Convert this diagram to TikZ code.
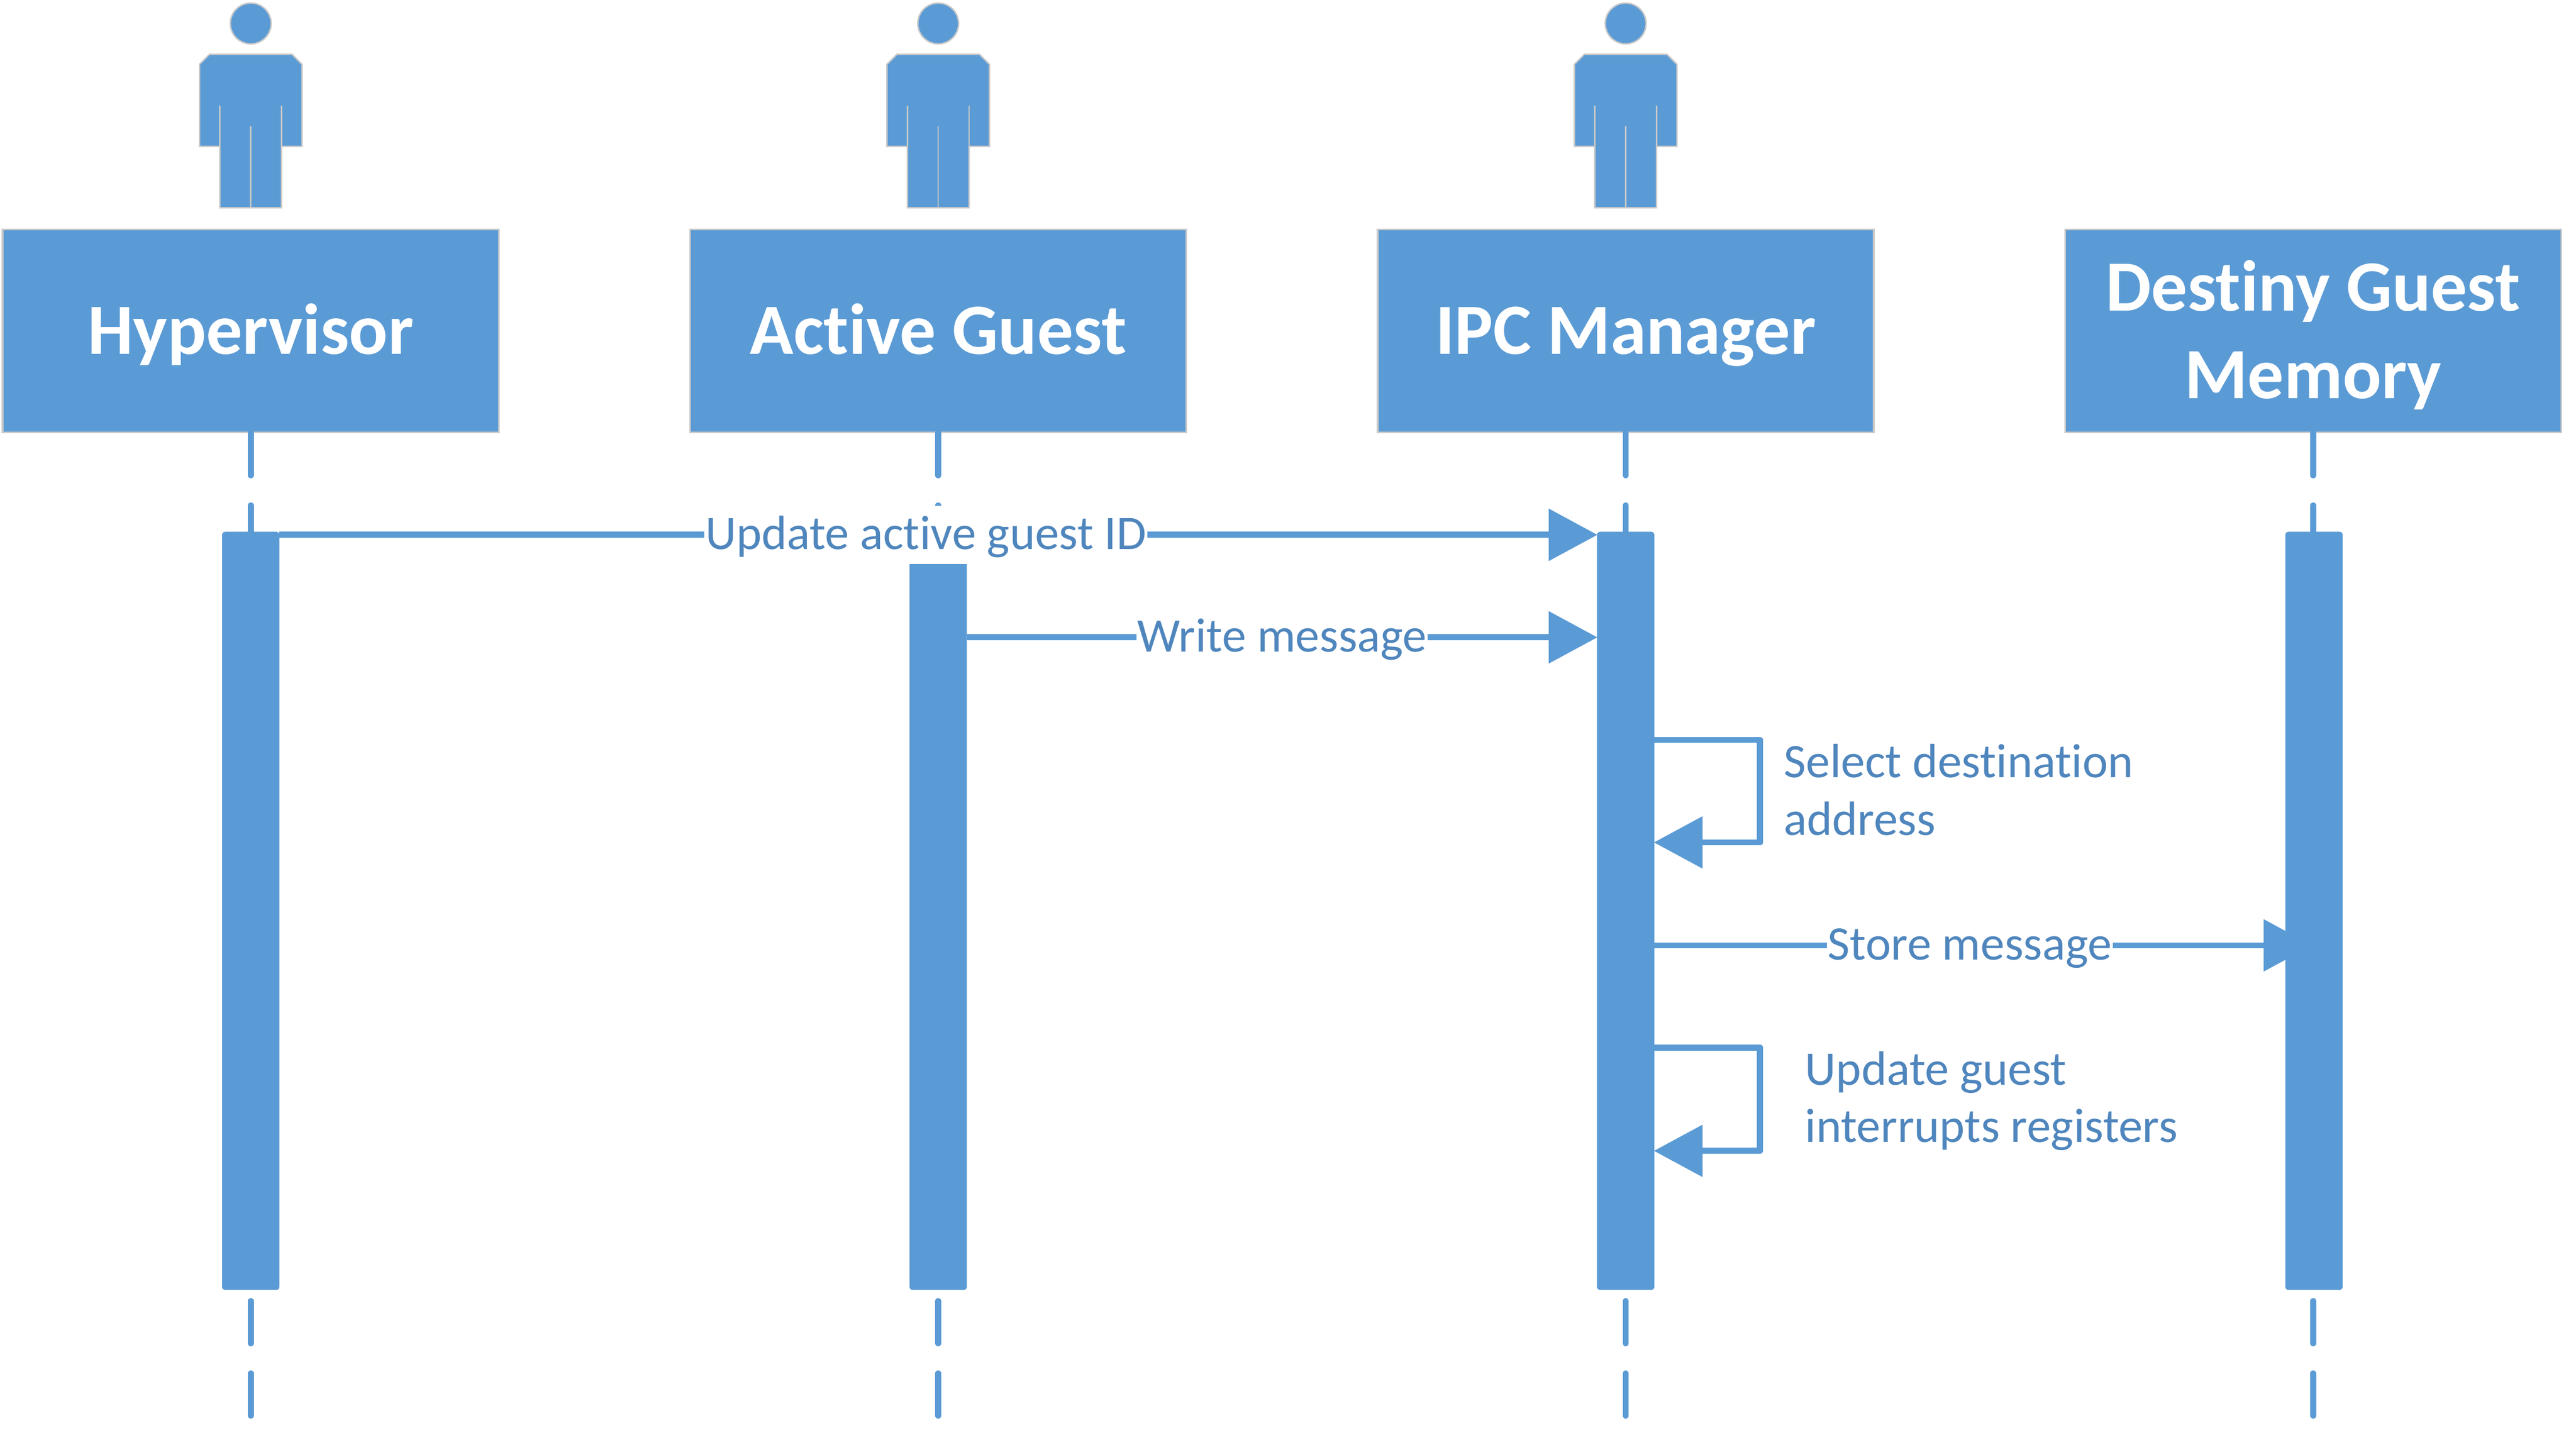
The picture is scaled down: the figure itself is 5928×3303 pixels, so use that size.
\documentclass[tikz,border=0pt]{standalone}
\usepackage{fontspec}
\setmainfont{Carlito}[RawFeature={-liga;-dlig;-clig}]
\usetikzlibrary{arrows.meta,calc}
\definecolor{fillblue}{HTML}{5B9BD5}
\definecolor{txtblue}{HTML}{4F86BD}
\definecolor{edgegrey}{HTML}{C9C9C9}
\tikzset{
  x=0.1pt,y=-0.1pt,
  headbox/.style={rectangle,fill=fillblue,draw=edgegrey,line width=0.4pt,minimum width=114.2pt,minimum height=46.7pt,inner sep=0pt,text=white,align=center,font=\fontsize{16.6}{20.1}\selectfont\bfseries},
  oneline/.style={text height=13.8pt,text depth=3.2pt},
  twolines/.style={text height=33.3pt,text depth=2.3pt},
  bar/.style={rectangle,fill=fillblue,rounded corners=0.7pt,minimum width=13.2pt,minimum height=174.5pt,inner sep=0pt,outer sep=0pt},
  lifeline/.style={draw=fillblue,line width=1.4pt,line cap=round,dash pattern=on 9.7pt off 6.95pt},
  msg/.style={draw=fillblue,line width=1.4pt,-{Triangle[length=11.2pt,width=11.7pt]},shorten >=-0.1pt,line join=round},
  msglabel/.style={fill=white,text=txtblue,inner xsep=0.2pt,inner ysep=0pt,text height=8.5pt,text depth=1.9pt,minimum height=13.4pt,font=\fontsize{11.1}{13.2}\selectfont},
  sidelabel/.style={text=txtblue,inner sep=0pt,anchor=north west,align=left,font=\fontsize{11.1}{13.2}\selectfont},
  persona/.style={fill=fillblue,draw=edgegrey,line width=0.33pt},
  seam/.style={draw=edgegrey,line width=0.33pt}
}
\newcommand{\actorfig}[1]{%
  \begin{scope}[xshift=#1*0.1pt]
    \draw[persona] (0,54) circle[radius=4.7pt];
    \draw[persona] (-95,125) -- (95,125) -- (118,148) -- (118,337) -- (71,337) -- (71,478) -- (-71,478) -- (-71,337) -- (-118,337) -- (-118,148) -- cycle;
    \draw[seam] (-71,243) -- (-71,337);
    \draw[seam] (71,243) -- (71,337);
    \draw[seam] (0,290) -- (0,478);
  \end{scope}}
\begin{document}
\begin{tikzpicture}
\useasboundingbox[fill=white] (0,0) rectangle (5928,3303);
% end points of the lifelines and message levels
\coordinate (endH) at (577,3262);
\coordinate (endA) at (2159,3262);
\coordinate (endI) at (3741,3262);
\coordinate (endD) at (5323,3262);
\coordinate (m1) at (0,1231);
\coordinate (m2) at (0,1467);
\coordinate (m3) at (0,1703);
\coordinate (m4) at (0,1939);
\coordinate (m5) at (0,2176);
\coordinate (m6) at (0,2411);
\coordinate (m7) at (0,2649);
\coordinate (loopx) at (4050,0);
% actors
\actorfig{577}
\actorfig{2159}
\actorfig{3741}
% head boxes
\node[headbox,oneline] (boxH) at (577,761.5) {Hypervisor};
\node[headbox,oneline] (boxA) at (2159,761.5) {Active Guest};
\node[headbox,oneline] (boxI) at (3741,761.5) {IPC Manager};
\node[headbox,twolines] (boxD) at (5323,761.5) {Destiny Guest\\Memory};
% lifelines
\draw[lifeline] (boxH.south) -- (endH);
\draw[lifeline] (boxA.south) -- (endA);
\draw[lifeline] (boxI.south) -- (endI);
\draw[lifeline] (boxD.south) -- (endD);
% activation bars
\node[bar] (barH) at (577,2096.5) {};
\node[bar] (barA) at (2159,2096.5) {};
\node[bar] (barI) at (3741,2096.5) {};
\node[bar] (barD) at (5325,2096.5) {};
% messages
\draw[msg] (barH.east |- m1) -- node[msglabel,pos=0.4906] (l1) {Update active guest ID} (barI.west |- m1);
\draw[msg] (barA.east |- m2) -- node[msglabel,pos=0.5] (l2) {Write message} (barI.west |- m2);
\draw[msg] (barI.east |- m3) -- (loopx |- m3) -- (loopx |- m4) -- (barI.east |- m4);
\node[sidelabel] (l3) at (4103,1711) {Select destination\\address};
\draw[msg] (barI.east |- m5) -- node[msglabel,pos=0.48] (l4) {Store message} ([xshift=-0.3pt]endD |- m5);
\draw[msg] (barI.east |- m6) -- (loopx |- m6) -- (loopx |- m7) -- (barI.east |- m7);
\node[sidelabel] (l5) at (4152,2418) {Update guest\\interrupts registers};
\end{tikzpicture}
\end{document}
